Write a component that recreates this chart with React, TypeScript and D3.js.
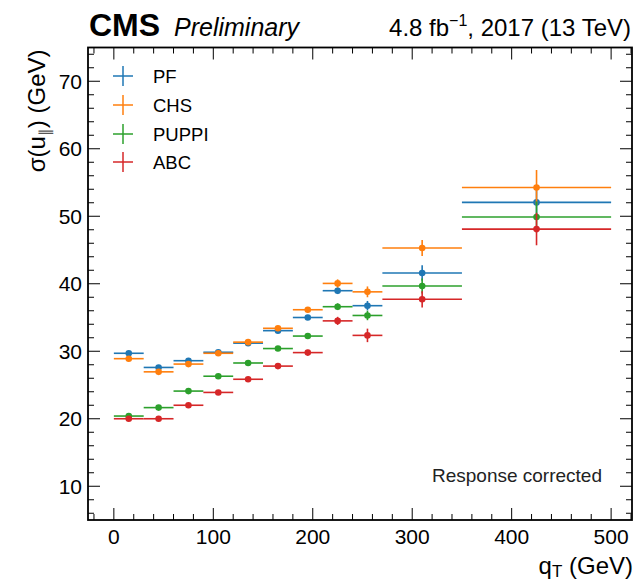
import React from "react";
import * as d3 from "d3";

const binEdges = [0, 30, 60, 90, 120, 150, 180, 210, 240, 270, 350, 500];
const seriesNames = ["PF", "CHS", "PUPPI", "ABC"];
const seriesColors = ["#1f77b4", "#ff7f0e", "#2ca02c", "#d62728"];
const pfValues = [29.7, 27.6, 28.6, 29.85, 31.2, 33.05, 35.0, 38.97, 36.75, 41.6, 52.05];
const chsValues = [28.9, 26.95, 28.1, 29.7, 31.35, 33.4, 36.15, 40.05, 38.8, 45.3, 54.25];
const puppiValues = [20.4, 21.65, 24.1, 26.3, 28.26, 30.4, 32.25, 36.6, 35.3, 39.66, 49.9];
const abcValues = [20.0, 20.0, 22.0, 23.9, 25.85, 27.8, 29.8, 34.5, 32.35, 37.7, 48.1];
const pfErrors = [0.2, 0.2, 0.2, 0.2, 0.25, 0.3, 0.35, 0.5, 0.7, 1.15, 2.4];
const chsErrors = [0.2, 0.2, 0.2, 0.25, 0.3, 0.35, 0.4, 0.6, 0.8, 1.2, 2.6];
const puppiErrors = [0.15, 0.15, 0.2, 0.2, 0.25, 0.3, 0.35, 0.5, 0.7, 1.1, 2.3];
const abcErrors = [0.15, 0.15, 0.2, 0.2, 0.25, 0.3, 0.4, 0.6, 1.0, 1.2, 2.4];
const xTicks = [0, 100, 200, 300, 400, 500];
const yTicks = [10, 20, 30, 40, 50, 60, 70];

const FONT = "'Liberation Sans', Arial, Helvetica, sans-serif";

export default function App() {
  const W = 636, H = 583;
  const left = 88, right = 632, top = 47.5, bottom = 520;
  const x = d3.scaleLinear().domain([-26, 521]).range([left, right]);
  const y = d3.scaleLinear().domain([5, 75]).range([bottom, top]);

  const values = [pfValues, chsValues, puppiValues, abcValues];
  const errors = [pfErrors, chsErrors, puppiErrors, abcErrors];

  const xMinor = d3.range(-20, 521, 20).filter((v) => v % 100 !== 0);
  const yMinor = d3.range(6, 75, 2).filter((v) => v % 10 !== 0);

  const bins = binEdges.slice(0, -1).map((lo, i) => ({ lo, hi: binEdges[i + 1], c: (lo + binEdges[i + 1]) / 2 }));

  const legendY = [76, 105, 134, 162];

  return (
    <svg width={W} height={H} style={{ position: "absolute", left: 0, top: 0, background: "#fff" }} fontFamily={FONT}>
      <rect x={0} y={0} width={W} height={H} fill="#fff" />
      {/* data */}
      <g>
        {values.map((vals, s) => (
          <g key={s} stroke={seriesColors[s]} fill={seriesColors[s]}>
            {bins.map((b, i) => (
              <g key={i}>
                <line x1={x(b.lo)} x2={x(b.hi)} y1={y(vals[i])} y2={y(vals[i])} strokeWidth={1.6} />
                <line x1={x(b.c)} x2={x(b.c)} y1={y(vals[i] - errors[s][i])} y2={y(vals[i] + errors[s][i])} strokeWidth={1.6} />
                <circle cx={x(b.c)} cy={y(vals[i])} r={3.3} stroke="none" />
              </g>
            ))}
          </g>
        ))}
      </g>
      {/* ticks */}
      <g stroke="#000" strokeWidth={1}>
        {xTicks.map((t) => (
          <g key={"xt" + t}>
            <line x1={x(t)} x2={x(t)} y1={bottom} y2={bottom - 12} />
            <line x1={x(t)} x2={x(t)} y1={top} y2={top + 12} />
          </g>
        ))}
        {xMinor.map((t) => (
          <g key={"xm" + t}>
            <line x1={x(t)} x2={x(t)} y1={bottom} y2={bottom - 6} />
            <line x1={x(t)} x2={x(t)} y1={top} y2={top + 6} />
          </g>
        ))}
        {yTicks.map((t) => (
          <g key={"yt" + t}>
            <line x1={left} x2={left + 12} y1={y(t)} y2={y(t)} />
            <line x1={right} x2={right - 12} y1={y(t)} y2={y(t)} />
          </g>
        ))}
        {yMinor.map((t) => (
          <g key={"ym" + t}>
            <line x1={left} x2={left + 6} y1={y(t)} y2={y(t)} />
            <line x1={right} x2={right - 6} y1={y(t)} y2={y(t)} />
          </g>
        ))}
      </g>
      <rect x={left} y={top} width={right - left} height={bottom - top} fill="none" stroke="#000" strokeWidth={1.8} />
      {/* tick labels */}
      <g fontSize={21} fill="#000">
        {xTicks.map((t) => (
          <text key={"xl" + t} x={x(t)} y={544} textAnchor="middle">{t}</text>
        ))}
        {yTicks.map((t) => (
          <text key={"yl" + t} x={82} y={y(t) + 7.5} textAnchor="end">{t}</text>
        ))}
      </g>
      {/* axis labels */}
      <text x={right + 1} y={574} textAnchor="end" fontSize={24}>
        q<tspan fontSize={17} dy={3}>T</tspan><tspan dy={-3}> (GeV)</tspan>
      </text>
      <text transform={`translate(45, ${top + 2}) rotate(-90)`} textAnchor="end" fontSize={24}>
        σ(u<tspan fontSize={15} dy={5} fill="#555">∥</tspan><tspan dy={-5}>) (GeV)</tspan>
      </text>
      {/* header */}
      <text x={89} y={35.5} fontSize={32} fontWeight="bold">CMS</text>
      <text x={174} y={35.5} fontSize={25} fontStyle="italic">Preliminary</text>
      <text x={631} y={35.5} textAnchor="end" fontSize={24}>
        4.8 fb<tspan fontSize={16} dy={-10}>−1</tspan><tspan dy={10}>, 2017 (13 TeV)</tspan>
      </text>
      {/* legend */}
      {seriesNames.map((n, i) => (
        <g key={n}>
          <line x1={113} x2={133} y1={legendY[i]} y2={legendY[i]} stroke={seriesColors[i]} strokeWidth={1.5} />
          <line x1={123} x2={123} y1={legendY[i] - 10} y2={legendY[i] + 10} stroke={seriesColors[i]} strokeWidth={1.5} />
          <text x={153} y={legendY[i] + 6.5} fontSize={18.5}>{n}</text>
        </g>
      ))}
      <text x={602} y={482} textAnchor="end" fontSize={19} fill="#222">Response corrected</text>
    </svg>
  );
}
